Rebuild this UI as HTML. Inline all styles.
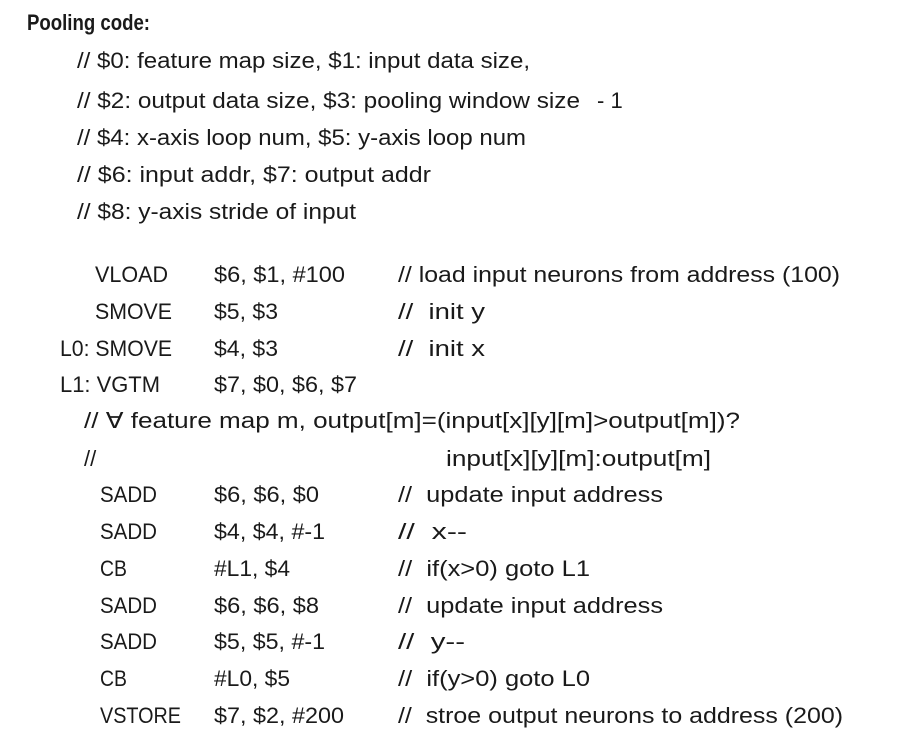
<!DOCTYPE html>
<html><head><meta charset="utf-8"><style>
html,body{margin:0;padding:0;background:#fff;}
svg{display:block;}
text{font-family:"Liberation Sans",sans-serif;font-size:22px;fill:#1a1a1a;white-space:pre;}
</style></head><body>
<svg width="897" height="735" viewBox="0 0 897 735" xmlns="http://www.w3.org/2000/svg">
<text x="27" y="30" font-weight="bold" textLength="123" lengthAdjust="spacingAndGlyphs">Pooling code:</text>
<text x="77" y="68" textLength="453" lengthAdjust="spacingAndGlyphs">// $0: feature map size, $1: input data size,</text>
<text x="77" y="108" textLength="503" lengthAdjust="spacingAndGlyphs">// $2: output data size, $3: pooling window size</text>
<text x="597" y="108">- 1</text>
<text x="77" y="145" textLength="449" lengthAdjust="spacingAndGlyphs">// $4: x-axis loop num, $5: y-axis loop num</text>
<text x="77" y="182" textLength="354" lengthAdjust="spacingAndGlyphs">// $6: input addr, $7: output addr</text>
<text x="77" y="219" textLength="279" lengthAdjust="spacingAndGlyphs">// $8: y-axis stride of input</text>

<text x="95" y="282" textLength="73" lengthAdjust="spacingAndGlyphs">VLOAD</text>
<text x="214" y="282" textLength="131" lengthAdjust="spacingAndGlyphs">$6, $1, #100</text>
<text x="398" y="282" textLength="442" lengthAdjust="spacingAndGlyphs">// load input neurons from address (100)</text>

<text x="95" y="319" textLength="77" lengthAdjust="spacingAndGlyphs">SMOVE</text>
<text x="214" y="319" textLength="64" lengthAdjust="spacingAndGlyphs">$5, $3</text>
<text x="398" y="319" textLength="87" lengthAdjust="spacingAndGlyphs">//  init y</text>

<text x="60" y="356" textLength="112" lengthAdjust="spacingAndGlyphs">L0: SMOVE</text>
<text x="214" y="356" textLength="64" lengthAdjust="spacingAndGlyphs">$4, $3</text>
<text x="398" y="356" textLength="87" lengthAdjust="spacingAndGlyphs">//  init x</text>

<text x="60" y="392" textLength="100" lengthAdjust="spacingAndGlyphs">L1: VGTM</text>
<text x="214" y="392" textLength="143" lengthAdjust="spacingAndGlyphs">$7, $0, $6, $7</text>

<text x="84" y="428" textLength="656" lengthAdjust="spacingAndGlyphs">// ∀ feature map m, output[m]=(input[x][y][m]&gt;output[m])?</text>
<text x="84" y="466">//</text>
<text x="446" y="466" textLength="265" lengthAdjust="spacingAndGlyphs">input[x][y][m]:output[m]</text>

<text x="100" y="502" textLength="57" lengthAdjust="spacingAndGlyphs">SADD</text>
<text x="214" y="502" textLength="105" lengthAdjust="spacingAndGlyphs">$6, $6, $0</text>
<text x="398" y="502" textLength="265" lengthAdjust="spacingAndGlyphs">//  update input address</text>

<text x="100" y="539" textLength="57" lengthAdjust="spacingAndGlyphs">SADD</text>
<text x="214" y="539" textLength="111" lengthAdjust="spacingAndGlyphs">$4, $4, #-1</text>
<text x="398" y="539" textLength="69" lengthAdjust="spacingAndGlyphs">//  x--</text>

<text x="100" y="576" textLength="27" lengthAdjust="spacingAndGlyphs">CB</text>
<text x="214" y="576" textLength="76" lengthAdjust="spacingAndGlyphs">#L1, $4</text>
<text x="398" y="576" textLength="192" lengthAdjust="spacingAndGlyphs">//  if(x&gt;0) goto L1</text>

<text x="100" y="613" textLength="57" lengthAdjust="spacingAndGlyphs">SADD</text>
<text x="214" y="613" textLength="105" lengthAdjust="spacingAndGlyphs">$6, $6, $8</text>
<text x="398" y="613" textLength="265" lengthAdjust="spacingAndGlyphs">//  update input address</text>

<text x="100" y="649" textLength="57" lengthAdjust="spacingAndGlyphs">SADD</text>
<text x="214" y="649" textLength="111" lengthAdjust="spacingAndGlyphs">$5, $5, #-1</text>
<text x="398" y="649" textLength="67" lengthAdjust="spacingAndGlyphs">//  y--</text>

<text x="100" y="686" textLength="27" lengthAdjust="spacingAndGlyphs">CB</text>
<text x="214" y="686" textLength="76" lengthAdjust="spacingAndGlyphs">#L0, $5</text>
<text x="398" y="686" textLength="192" lengthAdjust="spacingAndGlyphs">//  if(y&gt;0) goto L0</text>

<text x="100" y="723" textLength="81" lengthAdjust="spacingAndGlyphs">VSTORE</text>
<text x="214" y="723" textLength="130" lengthAdjust="spacingAndGlyphs">$7, $2, #200</text>
<text x="398" y="723" textLength="445" lengthAdjust="spacingAndGlyphs">//  stroe output neurons to address (200)</text>
</svg>
</body></html>
